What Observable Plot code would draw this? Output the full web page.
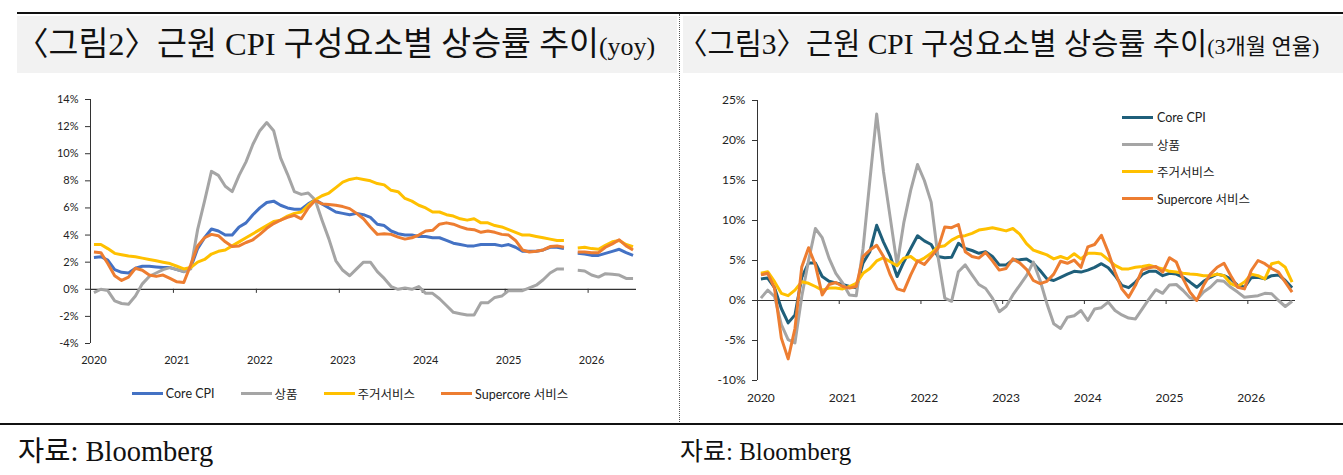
<!DOCTYPE html>
<html><head><meta charset="utf-8">
<script src="https://cdn.jsdelivr.net/npm/d3@7"></script>
<script src="https://cdn.jsdelivr.net/npm/@observablehq/plot@0.6"></script>
<style>
html,body{margin:0;padding:0;background:#fff}
body{width:1343px;height:475px;position:relative;overflow:hidden;font-family:Lato,"Noto Sans CJK KR",sans-serif;color:#222}
.abs{position:absolute}
.band{position:absolute;top:16px;height:57px;width:660px;background:#f2f2f2}
.title{position:absolute;top:16px;height:57px;line-height:57px;white-space:nowrap;font-family:"Liberation Serif","Noto Sans CJK KR",serif;color:#111}
.foot{position:absolute;white-space:nowrap;font-family:"Liberation Serif","Noto Sans CJK KR",serif;color:#111}
.legend{position:absolute;display:flex;align-items:center;font-size:12.5px;color:#222}
.legend .item{display:flex;align-items:center;margin:0 13px}
.legend .sw{display:inline-block;width:31px;height:3px;margin-right:3px}
.rleg{position:absolute;left:1122px;top:104px;font-size:12.5px;color:#222}
.rleg .row{display:flex;align-items:center;height:27px}
.rleg .sw{display:inline-block;width:31px;height:3.5px;margin-right:4px}
</style></head><body>
<div class="abs" style="left:17px;top:12px;width:1326px;height:2px;background:#111"></div>
<div class="band" style="left:17px"></div>
<div class="band" style="left:683px"></div>
<div class="abs" style="left:679px;top:14px;height:410px;border-left:1px dotted #555"></div>
<div class="title" id="t1" style="left:16px;font-size:32.5px"></div>
<div class="title" id="t2" style="left:678px;font-size:29.5px"></div>
<div id="c1" class="abs" style="left:0px;top:90px"></div>
<div id="c2" class="abs" style="left:680px;top:90px"></div>
<div id="leg1" class="legend" style="left:0px;top:384px;width:700px;justify-content:center"></div>
<div id="leg2" class="rleg"></div>
<div class="abs" style="left:0px;top:423px;width:1343px;height:2px;background:#111"></div>
<div class="foot" style="left:18px;top:428px;font-size:28.5px" id="f1"></div>
<div class="foot" style="left:680px;top:431px;font-size:25px" id="f2"></div>
<script>
// ---- text ----
const title1 = "〈그림2〉근원 CPI 구성요소별 상승률 추이";
const title1Small = "(yoy)";
const title2 = "〈그림3〉근원 CPI 구성요소별 상승률 추이";
const title2Small = "(3개월 연율)";
const source = "자료: Bloomberg";

// ---- categories ----
const years = ["2020", "2021", "2022", "2023", "2024", "2025", "2026"];
const seriesNames = ["Core CPI", "상품", "주거서비스", "Supercore 서비스"];
const colorsLeft = ["#4472C4", "#A5A5A5", "#FFC000", "#ED7D31"];
const colorsRight = ["#1F5F7A", "#A5A5A5", "#FFC000", "#ED7D31"];
const yTicksLeft = [-4, -2, 0, 2, 4, 6, 8, 10, 12, 14];
const yTicksRight = [-10, -5, 0, 5, 10, 15, 20, 25];

// ---- <그림2> yoy, monthly from 2020-01 (null = missing month) ----
const yoyCore = [
  2.35, 2.4, 2.15, 1.45, 1.25, 1.2, 1.55, 1.7, 1.7, 1.65, 1.6, 1.6,
  1.45, 1.3, 1.6, 3.0, 3.8, 4.45, 4.3, 4.0, 4.0, 4.6, 4.9, 5.5,
  6.0, 6.4, 6.5, 6.2, 6.0, 5.9, 5.9, 6.3, 6.6, 6.3, 6.0, 5.7,
  5.6, 5.5, 5.6, 5.5, 5.3, 4.8, 4.7, 4.3, 4.1, 4.0, 4.0, 3.9,
  3.9, 3.8, 3.8, 3.6, 3.4, 3.3, 3.2, 3.2, 3.3, 3.3, 3.3, 3.2,
  3.3, 3.1, 2.8, 2.8, 2.8, 2.9, 3.1, 3.1, 3.0, null, 2.65, 2.6,
  2.5, 2.5, 2.65, 2.8, 2.95, 2.7, 2.5
];
const yoyGoods = [
  -0.25, 0.0, -0.1, -0.85, -1.05, -1.1, -0.5, 0.4, 0.95, 1.2, 1.45, 1.6,
  1.45, 1.3, 1.5, 4.4, 6.5, 8.7, 8.4, 7.6, 7.2, 8.4, 9.4, 10.7,
  11.7, 12.3, 11.7, 9.7, 8.5, 7.2, 7.0, 7.1, 6.6, 5.1, 3.7, 2.1,
  1.4, 1.0, 1.5, 2.0, 2.0, 1.3, 0.8, 0.2, 0.0, 0.1, 0.0, 0.2,
  -0.3, -0.3, -0.7, -1.2, -1.7, -1.8, -1.9, -1.9, -1.0, -1.0, -0.6, -0.5,
  -0.1, -0.1, -0.1, 0.1, 0.3, 0.7, 1.2, 1.5, 1.5, null, 1.4, 1.35,
  1.05, 0.9, 1.15, 1.1, 1.05, 0.8, 0.8
];
const yoyShelter = [
  3.3, 3.3, 3.0, 2.65, 2.55, 2.45, 2.4, 2.3, 2.2, 2.1, 2.0, 1.9,
  1.7, 1.5, 1.6, 2.0, 2.2, 2.6, 2.8, 2.9, 3.2, 3.5, 3.8, 4.1,
  4.4, 4.7, 5.0, 5.1, 5.4, 5.6, 5.7, 6.2, 6.6, 6.9, 7.1, 7.5,
  7.9, 8.1, 8.2, 8.1, 8.0, 7.8, 7.7, 7.3, 7.2, 6.7, 6.5, 6.2,
  6.0, 5.7, 5.7, 5.5, 5.4, 5.2, 5.1, 5.2, 4.9, 4.9, 4.7, 4.6,
  4.4, 4.2, 4.0, 4.0, 3.9, 3.8, 3.7, 3.6, 3.6, null, 3.05, 3.1,
  3.0, 2.95, 3.25, 3.5, 3.6, 3.3, 3.15
];
const yoySupercore = [
  2.75, 2.7, 1.9, 1.0, 0.65, 0.9, 1.55, 1.4, 1.05, 0.95, 1.05, 0.8,
  0.55, 0.5, 1.8, 3.2, 3.8, 4.05, 3.95, 3.5, 3.15, 3.2, 3.45, 3.65,
  4.05, 4.5, 4.85, 5.1, 5.3, 5.45, 5.2, 6.0, 6.55, 6.3, 6.25, 6.2,
  6.1, 5.95, 5.6, 5.2, 4.6, 4.05, 4.1, 4.05, 3.85, 3.7, 3.8, 4.0,
  4.3, 4.35, 4.8, 4.9, 4.8, 4.6, 4.45, 4.4, 4.2, 4.3, 4.2, 4.05,
  4.0, 3.6, 2.9, 2.75, 2.8, 2.9, 3.15, 3.2, 3.1, null, 2.75, 2.75,
  2.7, 2.7, 3.1, 3.35, 3.65, 3.2, 2.9
];

// ---- <그림3> 3-month annualised, monthly from 2020-01 ----
const m3Core = [
  2.7, 2.8, 1.6, -1.0, -2.8, -1.8, 2.9, 4.7, 4.7, 3.0, 2.4, 2.2,
  2.0, 1.75, 1.6, 4.7, 6.1, 9.4, 7.3, 5.5, 3.0, 4.85, 6.5, 8.1,
  7.45, 7.0, 5.5, 5.35, 5.4, 7.15, 6.5, 6.25, 5.9, 6.1, 5.5, 4.45,
  4.45, 5.05, 5.1, 5.2, 4.65, 3.75, 2.7, 2.5, 2.9, 3.3, 3.65, 3.55,
  3.8, 4.15, 4.6, 4.1, 3.1, 1.9, 1.6, 2.3, 3.25, 3.65, 3.65, 3.1,
  3.4, 3.3, 2.9, 2.3, 1.65, 2.4, 2.9, 3.3, 3.1, 2.7, 1.9, 1.65,
  2.85, 2.9, 2.7, 3.1, 3.2, 2.5, 1.6
];
const m3Goods = [
  0.3, 1.3, 0.5, -3.0, -4.9, -5.3, 0.5, 5.0, 9.0, 7.85, 5.3, 3.4,
  2.2, 0.7, 0.6, 6.5, 15.0, 23.3, 16.1, 10.3, 4.45, 9.8, 13.8, 17.0,
  15.0, 12.3, 5.5, 0.3, -0.1, 3.6, 4.45, 3.2, 2.0, 1.5, 0.3, -1.4,
  -0.75, 0.7, 1.9, 3.1, 4.8, 2.5, -0.4, -2.9, -3.5, -2.1, -1.9, -1.25,
  -2.5, -1.05, -0.9, -0.2, -1.25, -1.8, -2.2, -2.3, -1.05, 0.2, 1.35, 0.9,
  1.95, 2.0, 1.25, 0.35, 0.1, 1.05, 1.65, 2.5, 2.4, 1.65, 1.05, 0.4,
  0.5, 0.6, 0.9, 0.85, 0.0, -0.75, -0.1
];
const m3Shelter = [
  3.4, 3.6, 2.35, 0.9, 0.6, 1.3, 2.35, 2.15, 1.75, 1.3, 1.55, 1.55,
  1.45, 1.75, 2.15, 3.4, 4.0, 4.95, 5.35, 4.85, 4.35, 5.3, 5.5, 4.85,
  5.3, 5.9, 6.7, 6.85, 7.55, 8.0, 8.1, 8.4, 8.8, 8.95, 9.1, 8.9,
  8.7, 9.0, 8.3, 7.1, 6.3, 6.0, 5.7, 5.2, 5.5, 5.2, 5.85, 5.2,
  5.9, 5.9, 5.8, 5.1, 4.4, 3.95, 3.95, 4.15, 4.25, 4.4, 4.15, 3.95,
  3.65, 3.55, 3.4, 3.3, 3.25, 3.1, 3.1, 3.3, 3.1, 2.1, 1.75, 2.3,
  3.3, 3.1, 2.7, 4.6, 4.8, 4.15, 2.3
];
const m3Supercore = [
  3.2, 3.4, 1.55, -4.7, -7.3, -3.5, 4.2, 6.6, 4.45, 0.7, 2.0, 2.25,
  1.75, 1.55, 1.75, 5.5, 6.3, 6.9, 5.5, 3.2, 1.45, 1.2, 3.2, 4.95,
  4.5, 5.5, 6.5, 9.2, 9.1, 9.5, 6.1, 5.5, 5.3, 6.0, 4.95, 3.8,
  4.0, 5.2, 4.7, 3.9, 2.5, 2.1, 2.4, 3.3, 4.9, 4.65, 5.05, 4.15,
  6.7, 7.0, 8.15, 6.05, 3.55, 1.45, 0.4, 1.9, 3.85, 4.1, 4.25, 3.55,
  5.35, 4.8, 2.7, 1.05, 0.0, 1.9, 3.3, 4.15, 4.65, 3.1, 1.65, 1.45,
  3.75, 5.0, 4.6, 4.0, 3.55, 2.3, 1.05
];

// ---- build ----
function setTitle(id, main, small, smallSize) {
  const el = document.getElementById(id);
  const a = document.createElement("span"); a.textContent = main;
  const b = document.createElement("span"); b.textContent = small; b.style.fontSize = smallSize + "px";
  el.append(a, b);
}
setTitle("t1", title1, title1Small, 26);
setTitle("t2", title2, title2Small, 22);
document.getElementById("f1").textContent = source;
document.getElementById("f2").textContent = source;

const nMonths = yoyCore.length;
const yearIdx = years.map((y, k) => k * 12);
const yearBounds = years.slice(1).map((y, k) => (k + 1) * 12 - 0.5);

function rows(arrs) {
  const out = [];
  arrs.forEach((arr, k) => arr.forEach((v, i) => out.push({i, v: v == null ? NaN : v, s: seriesNames[k]})));
  return out;
}
const axisColor = "#333";

function chart({data, colors, yTicks, yDomain, width, height, mL, mR, mT, mB, fontSize, tickLen}) {
  return Plot.plot({
    width, height, marginLeft: mL, marginRight: mR, marginTop: mT, marginBottom: mB,
    style: {fontFamily: 'Lato, "Noto Sans CJK KR", sans-serif', fontSize: fontSize + "px", color: "#222", background: "transparent"},
    x: {domain: [-0.5, nMonths - 0.5], label: null},
    y: {domain: yDomain, label: null},
    color: {domain: seriesNames, range: colors},
    marks: [
      Plot.ruleX([-0.5], {y1: yDomain[0], y2: yDomain[1], stroke: axisColor, strokeWidth: 1}),
      Plot.ruleY([0], {stroke: axisColor, strokeWidth: 1.2}),
      Plot.ruleX(yearBounds, {x: d => d, y1: 0, y2: -tickLen, stroke: axisColor, strokeWidth: 1}),
      Plot.axisY({ticks: yTicks, tickFormat: d => d + "%", tickSize: 5, tickPadding: 7, stroke: axisColor, label: null}),
      Plot.axisX({ticks: yearIdx, tickFormat: d => years[d / 12], tickSize: 0, tickPadding: 13, label: null}),
      Plot.line(rows(data), {x: "i", y: "v", z: "s", stroke: "s", strokeWidth: 3, strokeLinejoin: "round", strokeLinecap: "butt"})
    ]
  });
}

document.getElementById("c1").append(chart({
  data: [yoyCore, yoyGoods, yoyShelter, yoySupercore], colors: colorsLeft,
  yTicks: yTicksLeft, yDomain: [-4, 14], width: 660, height: 293,
  mL: 90, mR: 24, mT: 9, mB: 40, fontSize: 11, tickLen: 0.3
}));
document.getElementById("c2").append(chart({
  data: [m3Core, m3Goods, m3Shelter, m3Supercore], colors: colorsRight,
  yTicks: yTicksRight, yDomain: [-10, 25], width: 640, height: 330,
  mL: 77, mR: 25, mT: 10, mB: 40, fontSize: 12, tickLen: 0.5
}));

// legends
const leg1 = document.getElementById("leg1");
seriesNames.forEach((nm, k) => {
  const it = document.createElement("div"); it.className = "item";
  const sw = document.createElement("span"); sw.className = "sw"; sw.style.background = colorsLeft[k];
  const tx = document.createElement("span"); tx.textContent = nm;
  it.append(sw, tx); leg1.append(it);
});
const leg2 = document.getElementById("leg2");
seriesNames.forEach((nm, k) => {
  const it = document.createElement("div"); it.className = "row";
  const sw = document.createElement("span"); sw.className = "sw"; sw.style.background = colorsRight[k];
  const tx = document.createElement("span"); tx.textContent = nm;
  it.append(sw, tx); leg2.append(it);
});
</script>
</body></html>
